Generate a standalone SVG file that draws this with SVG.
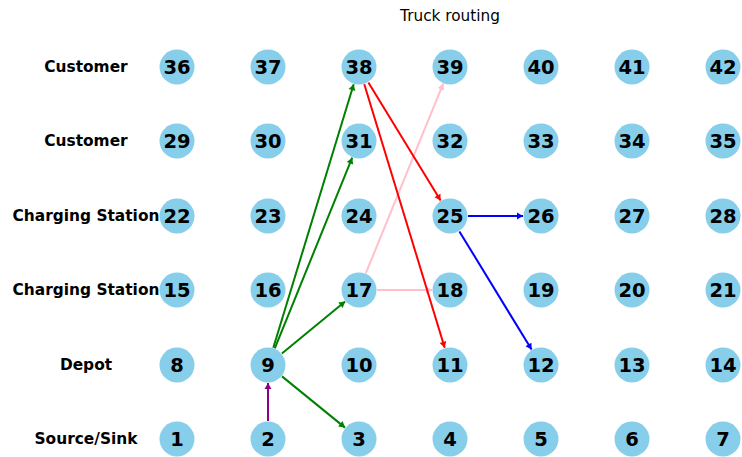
<svg xmlns="http://www.w3.org/2000/svg" width="742" height="457" viewBox="0 0 742 457">
<style>
.n circle{fill:#87CEEB}
.n text{font-family:"DejaVu Sans",sans-serif;font-weight:bold;font-size:19.5px;fill:#000;text-anchor:middle}
.lbl{font-family:"DejaVu Sans",sans-serif;font-weight:bold;font-size:15.4px;fill:#000;text-anchor:middle}
.title{font-family:"DejaVu Sans",sans-serif;font-size:15.3px;fill:#000;text-anchor:middle}
.e{fill:none;stroke-width:2}
</style>
<defs>
<marker id="ag" markerUnits="userSpaceOnUse" markerWidth="8" markerHeight="8" refX="6" refY="0" viewBox="-1 -4 8 8" orient="auto"><path d="M0,-3.5L6,0L0,3.5z" fill="#008000"/></marker>
<marker id="ar" markerUnits="userSpaceOnUse" markerWidth="8" markerHeight="8" refX="6" refY="0" viewBox="-1 -4 8 8" orient="auto"><path d="M0,-3.5L6,0L0,3.5z" fill="#FF0000"/></marker>
<marker id="ab" markerUnits="userSpaceOnUse" markerWidth="8" markerHeight="8" refX="6" refY="0" viewBox="-1 -4 8 8" orient="auto"><path d="M0,-3.5L6,0L0,3.5z" fill="#0000FF"/></marker>
<marker id="ap" markerUnits="userSpaceOnUse" markerWidth="8" markerHeight="8" refX="6" refY="0" viewBox="-1 -4 8 8" orient="auto"><path d="M0,-3.5L6,0L0,3.5z" fill="#FFC0CB"/></marker>
<marker id="am" markerUnits="userSpaceOnUse" markerWidth="8" markerHeight="8" refX="6" refY="0" viewBox="-1 -4 8 8" orient="auto"><path d="M0,-3.5L6,0L0,3.5z" fill="#8B008B"/></marker>
</defs>
<rect width="742" height="457" fill="#fff"/>
<text class="title" x="450" y="21">Truck routing</text>
<g id="row-labels">
<text class="lbl" x="86" y="72">Customer</text>
<text class="lbl" x="86" y="146">Customer</text>
<text class="lbl" x="86" y="221">Charging Station</text>
<text class="lbl" x="86" y="295">Charging Station</text>
<text class="lbl" x="86" y="370">Depot</text>
<text class="lbl" x="86" y="444">Source/Sink</text>
</g>
<g id="connectors">
<path class="e" stroke="#FFC0CB" d="M365.8,273.3L443.2,83.7" marker-end="url(#ap)"/>
<path class="e" stroke="#FFC0CB" d="M377,290L432,290" marker-end="url(#ap)"/>
<path class="e" stroke="#8B008B" d="M268,421L268,383" marker-end="url(#am)"/>
<path class="e" stroke="#008000" d="M273.3,347.8L353.7,84.2" marker-end="url(#ag)"/>
<path class="e" stroke="#008000" d="M274.8,348.3L352.2,157.7" marker-end="url(#ag)"/>
<path class="e" stroke="#008000" d="M281.9,353.5L345.1,301.5" marker-end="url(#ag)"/>
<path class="e" stroke="#008000" d="M282,376.4L345,427.6" marker-end="url(#ag)"/>
<path class="e" stroke="#FF0000" d="M368.4,82.4L440.6,200.6" marker-end="url(#ar)"/>
<path class="e" stroke="#FF0000" d="M364.3,84.2L444.7,347.8" marker-end="url(#ar)"/>
<path class="e" stroke="#0000FF" d="M468,216L523,216" marker-end="url(#ab)"/>
<path class="e" stroke="#0000FF" d="M459.4,231.4L531.6,349.6" marker-end="url(#ab)"/>
</g>
<g id="n36" class="n"><circle cx="177" cy="67" r="17.5"/><text x="177" y="74">36</text></g>
<g id="n37" class="n"><circle cx="268" cy="67" r="17.5"/><text x="268" y="74">37</text></g>
<g id="n38" class="n"><circle cx="359" cy="67" r="17.5"/><text x="359" y="74">38</text></g>
<g id="n39" class="n"><circle cx="450" cy="67" r="17.5"/><text x="450" y="74">39</text></g>
<g id="n40" class="n"><circle cx="541" cy="67" r="17.5"/><text x="541" y="74">40</text></g>
<g id="n41" class="n"><circle cx="632" cy="67" r="17.5"/><text x="632" y="74">41</text></g>
<g id="n42" class="n"><circle cx="723" cy="67" r="17.5"/><text x="723" y="74">42</text></g>
<g id="n29" class="n"><circle cx="177" cy="141" r="17.5"/><text x="177" y="148">29</text></g>
<g id="n30" class="n"><circle cx="268" cy="141" r="17.5"/><text x="268" y="148">30</text></g>
<g id="n31" class="n"><circle cx="359" cy="141" r="17.5"/><text x="359" y="148">31</text></g>
<g id="n32" class="n"><circle cx="450" cy="141" r="17.5"/><text x="450" y="148">32</text></g>
<g id="n33" class="n"><circle cx="541" cy="141" r="17.5"/><text x="541" y="148">33</text></g>
<g id="n34" class="n"><circle cx="632" cy="141" r="17.5"/><text x="632" y="148">34</text></g>
<g id="n35" class="n"><circle cx="723" cy="141" r="17.5"/><text x="723" y="148">35</text></g>
<g id="n22" class="n"><circle cx="177" cy="216" r="17.5"/><text x="177" y="223">22</text></g>
<g id="n23" class="n"><circle cx="268" cy="216" r="17.5"/><text x="268" y="223">23</text></g>
<g id="n24" class="n"><circle cx="359" cy="216" r="17.5"/><text x="359" y="223">24</text></g>
<g id="n25" class="n"><circle cx="450" cy="216" r="17.5"/><text x="450" y="223">25</text></g>
<g id="n26" class="n"><circle cx="541" cy="216" r="17.5"/><text x="541" y="223">26</text></g>
<g id="n27" class="n"><circle cx="632" cy="216" r="17.5"/><text x="632" y="223">27</text></g>
<g id="n28" class="n"><circle cx="723" cy="216" r="17.5"/><text x="723" y="223">28</text></g>
<g id="n15" class="n"><circle cx="177" cy="290" r="17.5"/><text x="177" y="297">15</text></g>
<g id="n16" class="n"><circle cx="268" cy="290" r="17.5"/><text x="268" y="297">16</text></g>
<g id="n17" class="n"><circle cx="359" cy="290" r="17.5"/><text x="359" y="297">17</text></g>
<g id="n18" class="n"><circle cx="450" cy="290" r="17.5"/><text x="450" y="297">18</text></g>
<g id="n19" class="n"><circle cx="541" cy="290" r="17.5"/><text x="541" y="297">19</text></g>
<g id="n20" class="n"><circle cx="632" cy="290" r="17.5"/><text x="632" y="297">20</text></g>
<g id="n21" class="n"><circle cx="723" cy="290" r="17.5"/><text x="723" y="297">21</text></g>
<g id="n8" class="n"><circle cx="177" cy="365" r="17.5"/><text x="177" y="372">8</text></g>
<g id="n9" class="n"><circle cx="268" cy="365" r="17.5"/><text x="268" y="372">9</text></g>
<g id="n10" class="n"><circle cx="359" cy="365" r="17.5"/><text x="359" y="372">10</text></g>
<g id="n11" class="n"><circle cx="450" cy="365" r="17.5"/><text x="450" y="372">11</text></g>
<g id="n12" class="n"><circle cx="541" cy="365" r="17.5"/><text x="541" y="372">12</text></g>
<g id="n13" class="n"><circle cx="632" cy="365" r="17.5"/><text x="632" y="372">13</text></g>
<g id="n14" class="n"><circle cx="723" cy="365" r="17.5"/><text x="723" y="372">14</text></g>
<g id="n1" class="n"><circle cx="177" cy="439" r="17.5"/><text x="177" y="446">1</text></g>
<g id="n2" class="n"><circle cx="268" cy="439" r="17.5"/><text x="268" y="446">2</text></g>
<g id="n3" class="n"><circle cx="359" cy="439" r="17.5"/><text x="359" y="446">3</text></g>
<g id="n4" class="n"><circle cx="450" cy="439" r="17.5"/><text x="450" y="446">4</text></g>
<g id="n5" class="n"><circle cx="541" cy="439" r="17.5"/><text x="541" y="446">5</text></g>
<g id="n6" class="n"><circle cx="632" cy="439" r="17.5"/><text x="632" y="446">6</text></g>
<g id="n7" class="n"><circle cx="723" cy="439" r="17.5"/><text x="723" y="446">7</text></g>
</svg>
